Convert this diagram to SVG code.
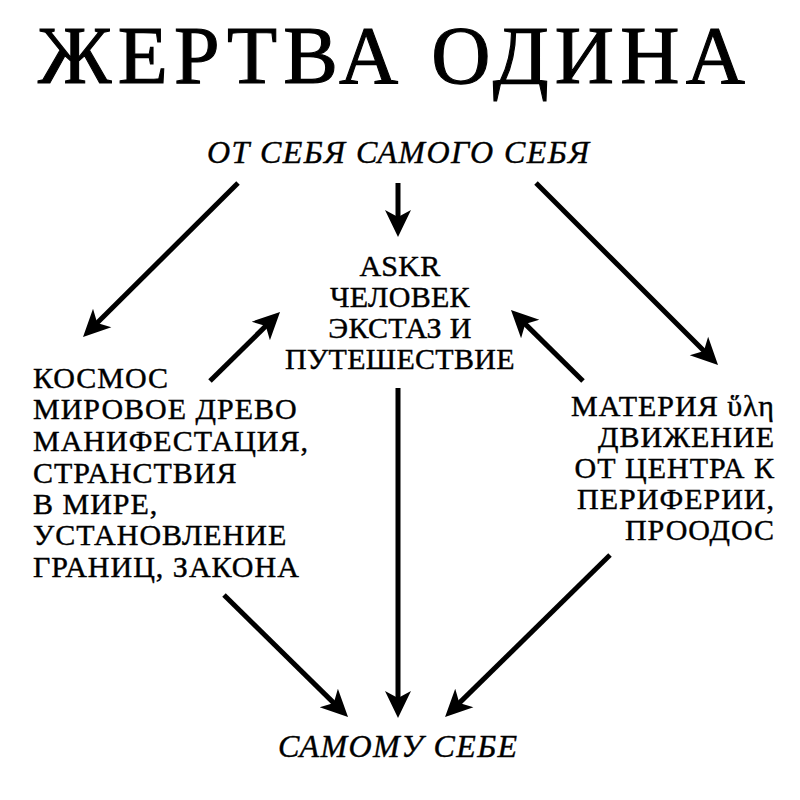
<svg xmlns="http://www.w3.org/2000/svg" width="800" height="800" viewBox="0 0 800 800">
<defs>
<style>
.t{font-family:"Liberation Serif","Times New Roman",serif;fill:#000;stroke:#000;stroke-width:0.4}
.title{font-size:82px;stroke-width:1.1}
.it{font-size:32px;font-style:italic}
.b{font-size:30px;letter-spacing:1px}
.m{letter-spacing:0.3px}
.c{stroke:#000;stroke-width:5;fill:none;marker-end:url(#ah)}
</style>
<marker id="ah" markerUnits="userSpaceOnUse" markerWidth="30" markerHeight="30" viewBox="0 0 30 28" refX="9" refY="13" orient="auto">
<path d="M27,13 L0,0 L7,13 L0,26 Z" fill="#000"/>
</marker>
</defs>
<rect width="800" height="800" fill="#fff"/>
<g id="title"><text class="t title" x="38" y="83" textLength="707" lengthAdjust="spacing">ЖЕРТВА ОДИНА</text></g>
<g id="source"><text class="t it" x="207" y="163" textLength="382" lengthAdjust="spacing">ОТ СЕБЯ САМОГО СЕБЯ</text></g>
<g id="askr"><text class="t b m" text-anchor="middle"><tspan x="400" y="276">ASKR</tspan><tspan x="400" y="307">ЧЕЛОВЕК</tspan><tspan x="400" y="338">ЭКСТАЗ И</tspan><tspan x="400" y="369">ПУТЕШЕСТВИЕ</tspan></text></g>
<g id="kosmos"><text class="t b"><tspan x="33" y="388">КОСМОС</tspan><tspan x="33" y="419">МИРОВОЕ ДРЕВО</tspan><tspan x="33" y="451">МАНИФЕСТАЦИЯ,</tspan><tspan x="33" y="483">СТРАНСТВИЯ</tspan><tspan x="33" y="514">В МИРЕ,</tspan><tspan x="33" y="545">УСТАНОВЛЕНИЕ</tspan><tspan x="33" y="577">ГРАНИЦ, ЗАКОНА</tspan></text></g>
<g id="materia"><text class="t b" text-anchor="end"><tspan x="775" y="416">МАТЕРИЯ ὕλη</tspan><tspan x="775" y="447">ДВИЖЕНИЕ</tspan><tspan x="775" y="478">ОТ ЦЕНТРА К</tspan><tspan x="775" y="509">ПЕРИФЕРИИ,</tspan><tspan x="775" y="540">ПРООДОС</tspan></text></g>
<g id="target"><text class="t it" x="278" y="757" textLength="239" lengthAdjust="spacing">САМОМУ СЕБЕ</text></g>
<g id="connectors">
<line class="c" x1="238" y1="183" x2="95.8" y2="324.3"/>
<line class="c" x1="398" y1="183" x2="398" y2="219"/>
<line class="c" x1="536" y1="183" x2="705.3" y2="352.3"/>
<line class="c" x1="210" y1="381" x2="267.2" y2="324.6"/>
<line class="c" x1="583" y1="381" x2="523.8" y2="322.6"/>
<line class="c" x1="398" y1="388" x2="398" y2="700"/>
<line class="c" x1="224" y1="595" x2="335.2" y2="704.4"/>
<line class="c" x1="610" y1="555" x2="457.9" y2="704.4"/>
</g>
</svg>
